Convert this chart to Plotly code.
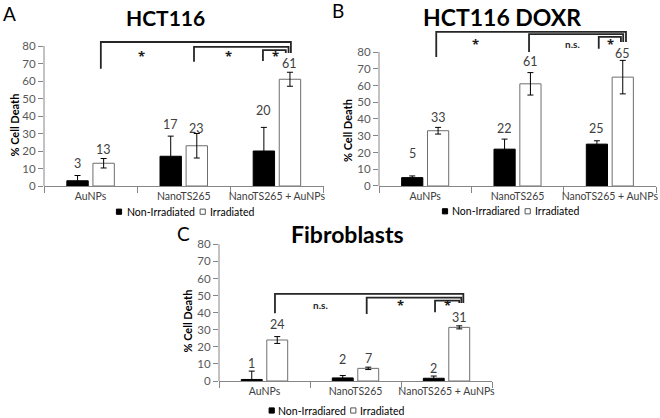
import plotly.graph_objects as go

W, H = 660, 418

categories = ["AuNPs", "NanoTS265", "NanoTS265 + AuNPs"]
y_ticks = [0, 10, 20, 30, 40, 50, 60, 70, 80]

# Panel A: HCT116
a_non_irr = [3, 17, 20]
a_non_irr_err = [3, 11.5, 13.5]
a_irr = [13, 23, 61]
a_irr_err = [2.7, 7, 4]

# Panel B: HCT116 DOXR
b_non_irr = [5, 22, 25]
b_non_irr_err = [1, 6, 2]
b_irr = [33, 61, 65]
b_irr_err = [2, 6.7, 10]

# Panel C: Fibroblasts
c_non_irr = [0.9, 1.8, 1.6]
c_non_irr_err = [4.9, 1.4, 1.3]
c_irr = [24, 7.4, 31.4]
c_irr_err = [2, 0.7, 0.9]

FONT = "Lato"
AX_COL = "#868686"
TXT_COL = "#404040"


def px(x):
    return x / W


def py(y):
    return 1 - y / H


panels = [
    dict(key="", x0=44, x1=323.5, y0=186, scale=1.75, ytop=88,
         non=a_non_irr, non_err=a_non_irr_err, irr=a_irr, irr_err=a_irr_err,
         title="HCT116", tx=165, ty=17, tsize=21, letter="A", lx=9, ly=14,
         ytitle_x=13.5, ytitle_y=125,
         non_lab=[12.6, 35.4, 43.4], irr_lab=[21, 32.6, 70],
         brackets=[(0.11, 67, 2.15, 82.3), (1.11, 71, 2.125, 79.5), (1.85, 71.5, 2.095, 77.7)],
         bracket_bottom=76,
         sig=[(0.55, "*"), (1.475, "*"), (1.98, "*")], sig_y=74.5,
         legend=dict(sq1=119, t1=125, sq2=202.7, t2=208, y=211.7, label="Non-Irradiated")),
    dict(key="2", x0=379, x1=656, y0=186, scale=1.675, ytop=95,
         non=b_non_irr, non_err=b_non_irr_err, irr=b_irr, irr_err=b_irr_err,
         title="HCT116 DOXR", tx=501.5, ty=17, tsize=23, letter="B", lx=338, ly=11,
         ytitle_x=347, ytitle_y=131,
         non_lab=[19.5, 34.4, 34.4], irr_lab=[41, 74.6, 79.2],
         brackets=[(0.12, 77, 2.175, 92), (1.125, 80, 2.145, 90.7), (1.88, 82, 2.12, 89)],
         bracket_bottom=86,
         sig=[(0.55, "*"), (1.6, "n.s."), (2.01, "*")], sig_y=85,
         legend=dict(sq1=445, t1=449.5, sq2=527.7, t2=533, y=211.3, label="Non-Irradiared")),
    dict(key="3", x0=219, x1=492, y0=381, scale=1.708, ytop=82,
         non=c_non_irr, non_err=c_non_irr_err, irr=c_irr, irr_err=c_irr_err,
         title="Fibroblasts", tx=348, ty=234, tsize=23, letter="C", lx=183, ly=233,
         ytitle_x=187, ytitle_y=321.5,
         non_lab=[10.4, 12.7, 7.4], irr_lab=[32.8, 12.9, 37.3],
         brackets=[(0.115, 39.6, 2.185, 51), (1.123, 39.2, 2.163, 48.8), (1.874, 40.2, 2.14, 47)],
         bracket_bottom=45.6,
         sig=[(0.61, "n.s."), (1.49, "*"), (2.01, "*")], sig_y=44.5,
         legend=dict(sq1=271.7, t1=276.3, sq2=353.3, t2=358.3, y=410.5, label="Non-Irradiared")),
]

fig = go.Figure()
annotations = []
shapes = []
layout_axes = {}

for p in panels:
    k = p["key"]
    xa = "x" + k
    ya = "y" + k
    fig.add_trace(go.Bar(
        x=categories, y=p["non"], xaxis=xa, yaxis=ya, showlegend=False,
        marker=dict(color="black", line=dict(color="black", width=1)),
        error_y=dict(type="data", array=p["non_err"], color="black", thickness=1, width=3),
    ))
    fig.add_trace(go.Bar(
        x=categories, y=p["irr"], xaxis=xa, yaxis=ya, showlegend=False,
        marker=dict(color="white", line=dict(color="#6e6e6e", width=1)),
        error_y=dict(type="data", array=p["irr_err"], color="black", thickness=1, width=3),
    ))
    ytop_px = p["y0"] - p["ytop"] * p["scale"]
    layout_axes["xaxis" + k] = dict(
        domain=[px(p["x0"]), px(p["x1"])], anchor=ya, type="category",
        categoryorder="array", categoryarray=categories, range=[-0.5, 2.5],
        tickson="boundaries", ticks="outside", ticklen=6, tickcolor=AX_COL,
        showline=True, linecolor=AX_COL, linewidth=1, showgrid=False, zeroline=False,
        tickangle=0, automargin=False,
        tickfont=dict(family=FONT, size=10.5, color=TXT_COL), fixedrange=True,
    )
    layout_axes["yaxis" + k] = dict(
        domain=[py(p["y0"]), py(ytop_px)], anchor=xa, range=[0, p["ytop"]],
        tickvals=y_ticks, ticks="outside", ticklen=5, tickcolor=AX_COL,
        showline=False, showgrid=False, zeroline=False, automargin=False,
        tickfont=dict(family=FONT, size=11.5, color="#595959"), fixedrange=True,
    )
    shapes.append(dict(type="line", xref="paper", yref=ya, x0=px(p["x0"]), x1=px(p["x0"]),
                       y0=0, y1=80, line=dict(color=AX_COL, width=1)))
    for i in range(3):
        annotations.append(dict(xref=xa, yref=ya, x=i - 0.14, y=p["non_lab"][i],
                                text=f"{p['non'][i]:.0f}", showarrow=False,
                                font=dict(family=FONT, size=12.5, color=TXT_COL)))
        annotations.append(dict(xref=xa, yref=ya, x=i + 0.14, y=p["irr_lab"][i],
                                text=f"{p['irr'][i]:.0f}", showarrow=False,
                                font=dict(family=FONT, size=12.5, color=TXT_COL)))
    for (xl, yl, xr, yt) in p["brackets"]:
        shapes.append(dict(type="path", xref=xa, yref=ya,
                           path=f"M {xl},{yl} L {xl},{yt} L {xr},{yt} L {xr},{p['bracket_bottom']}",
                           line=dict(color="#262626", width=1.8)))
    for (sx, st) in p["sig"]:
        if st == "*":
            fnt = dict(family="Open Sans", size=13, color="#1a1a1a")
        else:
            fnt = dict(family=FONT, size=10, color="#262626")
        annotations.append(dict(xref=xa, yref=ya, x=sx, y=p["sig_y"], text=f"<b>{st}</b>",
                                showarrow=False, font=fnt))
    annotations.append(dict(xref="paper", yref="paper", x=px(p["tx"]), y=py(p["ty"]),
                            text=f"<b>{p['title']}</b>", showarrow=False,
                            xanchor="center", yanchor="middle",
                            font=dict(family=FONT, size=p["tsize"], color="black")))
    annotations.append(dict(xref="paper", yref="paper", x=px(p["lx"]), y=py(p["ly"]),
                            text=p["letter"], showarrow=False, xanchor="center", yanchor="middle",
                            font=dict(family=FONT, size=19, color="black")))
    annotations.append(dict(xref="paper", yref="paper", x=px(p["ytitle_x"]), y=py(p["ytitle_y"]),
                            text="<b>% Cell Death</b>", showarrow=False, textangle=-90,
                            xanchor="center", yanchor="middle",
                            font=dict(family=FONT, size=11, color="black")))
    lg = p["legend"]
    s = 2.6
    shapes.append(dict(type="rect", xref="paper", yref="paper",
                       x0=px(lg["sq1"] - s), x1=px(lg["sq1"] + s),
                       y0=py(lg["y"] + s), y1=py(lg["y"] - s),
                       fillcolor="black", line=dict(color="black", width=1)))
    shapes.append(dict(type="rect", xref="paper", yref="paper",
                       x0=px(lg["sq2"] - s), x1=px(lg["sq2"] + s),
                       y0=py(lg["y"] + s), y1=py(lg["y"] - s),
                       fillcolor="white", line=dict(color="#555555", width=1)))
    annotations.append(dict(xref="paper", yref="paper", x=px(lg["t1"]), y=py(lg["y"]),
                            text=lg["label"], showarrow=False, xanchor="left", yanchor="middle",
                            font=dict(family=FONT, size=10.5, color="black")))
    annotations.append(dict(xref="paper", yref="paper", x=px(lg["t2"]), y=py(lg["y"]),
                            text="Irradiated", showarrow=False, xanchor="left", yanchor="middle",
                            font=dict(family=FONT, size=10.5, color="black")))

fig.update_layout(
    width=W, height=H, margin=dict(l=0, r=0, t=0, b=0),
    paper_bgcolor="white", plot_bgcolor="white",
    barmode="group", bargap=0.44, bargroupgap=0.18,
    annotations=annotations, shapes=shapes, showlegend=False,
    font=dict(family=FONT),
    **layout_axes,
)

fig.write_html(
    "out.html",
    config={"displayModeBar": False},
    post_script="document.body.style.margin='0px';document.body.style.overflow='hidden';",
)
